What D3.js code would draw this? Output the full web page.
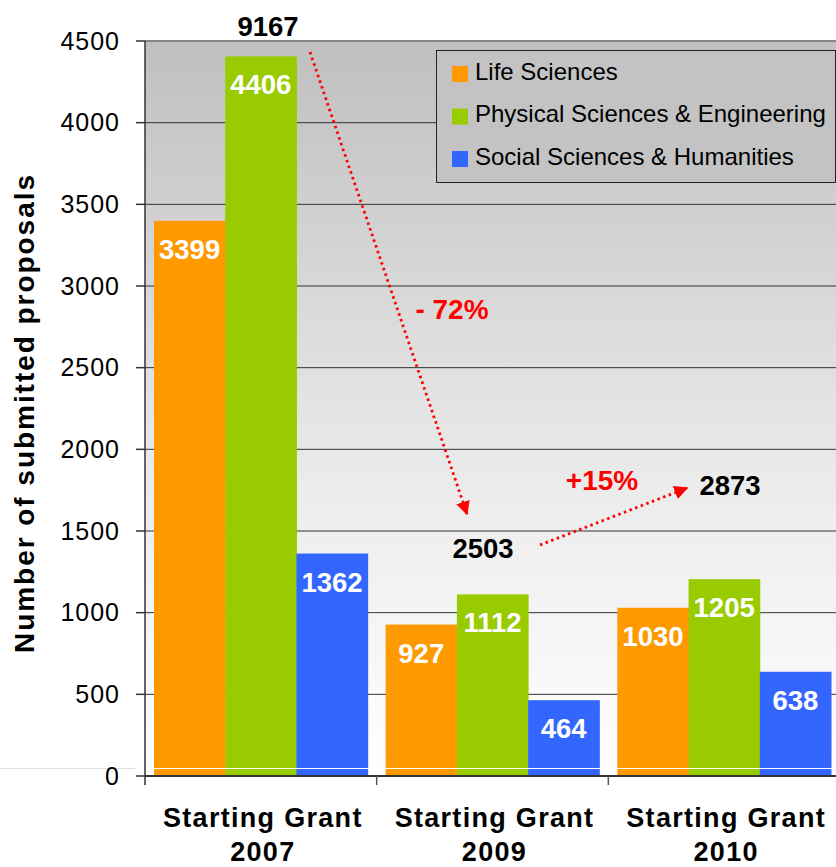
<!DOCTYPE html>
<html lang="en">
<head>
    <meta charset="UTF-8">
    <title>Starting Grant submitted proposals</title>
    <script src="https://cdn.jsdelivr.net/npm/d3@7/dist/d3.min.js"></script>
    <style>
        body { margin: 0; background: #fff; }
        svg { display: block; font-family: Arial, "Liberation Sans", sans-serif; }
    </style>
</head>
<body>
<script>
    // data
    const categories = ['2007', '2009', '2010'];
    const seriesNames = ['Life Sciences', 'Physical Sciences & Engineering', 'Social Sciences & Humanities'];
    const seriesColors = ['#ff9900', '#99cc00', '#3366ff'];
    const lifeSciences = [3399, 927, 1030];
    const physicalSciences = [4406, 1112, 1205];
    const socialSciences = [1362, 464, 638];
    const yTicks = [0, 500, 1000, 1500, 2000, 2500, 3000, 3500, 4000, 4500];
    const changeLabels = ['- 72%', '+15%'];

    const width = 836;
    const height = 867;
    const plot = { left: 145, right: 840, top: 41, bottom: 776 };

    const seriesValues = [lifeSciences, physicalSciences, socialSciences];
    const rows = categories.map((c, i) => ({
        cat: c,
        values: seriesValues.map((s, j) => ({ key: j, value: s[i] }))
    }));
    const totals = rows.map(r => d3.sum(r.values, v => v.value));

    const svg = d3.select('body').append('svg')
        .attr('width', width)
        .attr('height', height);

    const x0 = d3.scaleBand().domain(categories).range([plot.left, plot.right]);
    const x1 = d3.scaleBand().domain(d3.range(seriesNames.length))
        .range([9, x0.bandwidth() - 9]);
    const y = d3.scaleLinear().domain([0, 4500]).range([plot.bottom, plot.top]);

    // background gradient
    const grad = svg.append('defs').append('linearGradient')
        .attr('id', 'bg').attr('x1', 0).attr('y1', 0).attr('x2', 0).attr('y2', 1);
    grad.append('stop').attr('offset', '0%').attr('stop-color', '#bfbfbf');
    grad.append('stop').attr('offset', '60%').attr('stop-color', '#ebebeb');
    grad.append('stop').attr('offset', '100%').attr('stop-color', '#ffffff');

    svg.append('rect')
        .attr('x', plot.left).attr('y', plot.top)
        .attr('width', plot.right - plot.left)
        .attr('height', plot.bottom - plot.top)
        .attr('fill', 'url(#bg)');

    // grid lines
    svg.append('g').selectAll('line')
        .data(yTicks.filter(t => t > 0))
        .join('line')
        .attr('x1', plot.left).attr('x2', plot.right)
        .attr('y1', d => y(d)).attr('y2', d => y(d))
        .attr('stroke', d => d === 4500 ? '#858585' : '#333')
        .attr('stroke-width', d => d === 4500 ? 2 : 1);

    // faint line left of the axis near zero
    svg.append('line')
        .attr('x1', 0).attr('x2', plot.left - 10)
        .attr('y1', plot.bottom - 7.5).attr('y2', plot.bottom - 7.5)
        .attr('stroke', '#dddddd').attr('stroke-width', 1);

    // bars
    const groups = svg.append('g').selectAll('g')
        .data(rows)
        .join('g')
        .attr('transform', d => 'translate(' + x0(d.cat) + ',0)');

    groups.selectAll('rect')
        .data(d => d.values)
        .join('rect')
        .attr('x', d => x1(d.key))
        .attr('y', d => y(d.value))
        .attr('width', x1.bandwidth() + 0.5)
        .attr('height', d => y(0) - y(d.value))
        .attr('fill', d => seriesColors[d.key]);

    groups.selectAll('text')
        .data(d => d.values)
        .join('text')
        .attr('x', d => x1(d.key) + x1.bandwidth() / 2)
        .attr('y', d => y(d.value) + 38)
        .attr('text-anchor', 'middle')
        .attr('fill', '#fff')
        .style('font-size', '27.5px')
        .style('font-weight', 'bold')
        .text(d => d.value);

    // thin white line across the bars just above zero
    svg.append('line')
        .attr('x1', plot.left + 9).attr('x2', plot.right)
        .attr('y1', plot.bottom - 7.5).attr('y2', plot.bottom - 7.5)
        .attr('stroke', '#fff').attr('stroke-width', 1);

    // y axis
    svg.append('line')
        .attr('x1', plot.left).attr('x2', plot.left)
        .attr('y1', plot.top).attr('y2', plot.bottom + 9)
        .attr('stroke', '#333').attr('stroke-width', 1.5);

    const yAxis = svg.append('g');
    yAxis.selectAll('line')
        .data(yTicks)
        .join('line')
        .attr('x1', plot.left - 9).attr('x2', plot.left)
        .attr('y1', d => y(d)).attr('y2', d => y(d))
        .attr('stroke', '#333').attr('stroke-width', 1.5);
    yAxis.selectAll('text')
        .data(yTicks)
        .join('text')
        .attr('x', plot.left - 25)
        .attr('y', d => y(d) + 8.5)
        .attr('text-anchor', 'end')
        .style('font-size', '25px')
        .style('letter-spacing', '1px')
        .attr('fill', '#000')
        .text(d => d);

    // x axis
    svg.append('line')
        .attr('x1', plot.left).attr('x2', plot.right)
        .attr('y1', plot.bottom).attr('y2', plot.bottom)
        .attr('stroke', '#333').attr('stroke-width', 2);

    svg.append('g').selectAll('line')
        .data(categories.slice(1))
        .join('line')
        .attr('x1', d => x0(d)).attr('x2', d => x0(d))
        .attr('y1', plot.bottom).attr('y2', plot.bottom + 9)
        .attr('stroke', '#555').attr('stroke-width', 1.5);

    const xLabels = svg.append('g').selectAll('text')
        .data(categories)
        .join('text')
        .attr('text-anchor', 'middle')
        .style('font-size', '27px')
        .style('font-weight', 'bold')
        .style('letter-spacing', '1.3px');
    xLabels.append('tspan')
        .attr('x', d => x0(d) + x0.bandwidth() / 2 + 2)
        .attr('y', 827)
        .text('Starting Grant');
    xLabels.append('tspan')
        .attr('x', d => x0(d) + x0.bandwidth() / 2 + 2)
        .attr('y', 861)
        .text(d => d);

    // y title
    svg.append('text')
        .attr('transform', 'translate(34,414) rotate(-90)')
        .attr('text-anchor', 'middle')
        .style('font-size', '28px')
        .style('font-weight', 'bold')
        .attr('textLength', 478)
        .attr('lengthAdjust', 'spacing')
        .text('Number of submitted proposals');

    // legend
    const legend = svg.append('g');
    legend.append('rect')
        .attr('x', 436.5).attr('y', 50.5)
        .attr('width', 399).attr('height', 132)
        .attr('fill', '#c3c3c3')
        .attr('stroke', '#222').attr('stroke-width', 1);
    const items = legend.selectAll('g')
        .data(seriesNames)
        .join('g')
        .attr('transform', (d, i) => 'translate(452,' + (66 + i * 42.5) + ')');
    items.append('rect')
        .attr('width', 16).attr('height', 16)
        .attr('fill', (d, i) => seriesColors[i]);
    items.append('text')
        .attr('x', 23).attr('y', 13.5)
        .style('font-size', '24px')
        .attr('fill', '#000')
        .text(d => d);

    // totals and change annotations
    const totalPos = [[268, 36], [483, 558], [730, 495]];
    svg.append('g').selectAll('text')
        .data(totals)
        .join('text')
        .attr('x', (d, i) => totalPos[i][0])
        .attr('y', (d, i) => totalPos[i][1])
        .attr('text-anchor', 'middle')
        .style('font-size', '27.5px')
        .style('font-weight', 'bold')
        .text(d => d);

    svg.append('defs').append('marker')
        .attr('id', 'arrow')
        .attr('viewBox', '0 0 10 10')
        .attr('refX', 9).attr('refY', 5)
        .attr('markerWidth', 5).attr('markerHeight', 5)
        .attr('markerUnits', 'strokeWidth')
        .attr('orient', 'auto')
        .append('path')
        .attr('d', 'M0,0 L10,5 L0,10 z')
        .attr('fill', '#ff0000');

    const arrows = [[[310, 52], [467, 514]], [[540, 545], [687, 488]]];
    svg.append('g').selectAll('path')
        .data(arrows)
        .join('path')
        .attr('d', d => 'M' + d[0][0] + ',' + d[0][1] + ' L' + d[1][0] + ',' + d[1][1])
        .attr('stroke', '#ff0000')
        .attr('stroke-width', 2.8)
        .attr('stroke-dasharray', '2.5,3.5')
        .attr('fill', 'none')
        .attr('marker-end', 'url(#arrow)');

    const changePos = [[452, 319], [602, 490]];
    svg.append('g').selectAll('text')
        .data(changeLabels)
        .join('text')
        .attr('x', (d, i) => changePos[i][0])
        .attr('y', (d, i) => changePos[i][1])
        .attr('text-anchor', 'middle')
        .attr('fill', '#ff0000')
        .style('font-size', '28px')
        .style('font-weight', 'bold')
        .text(d => d);
</script>
</body>
</html>
